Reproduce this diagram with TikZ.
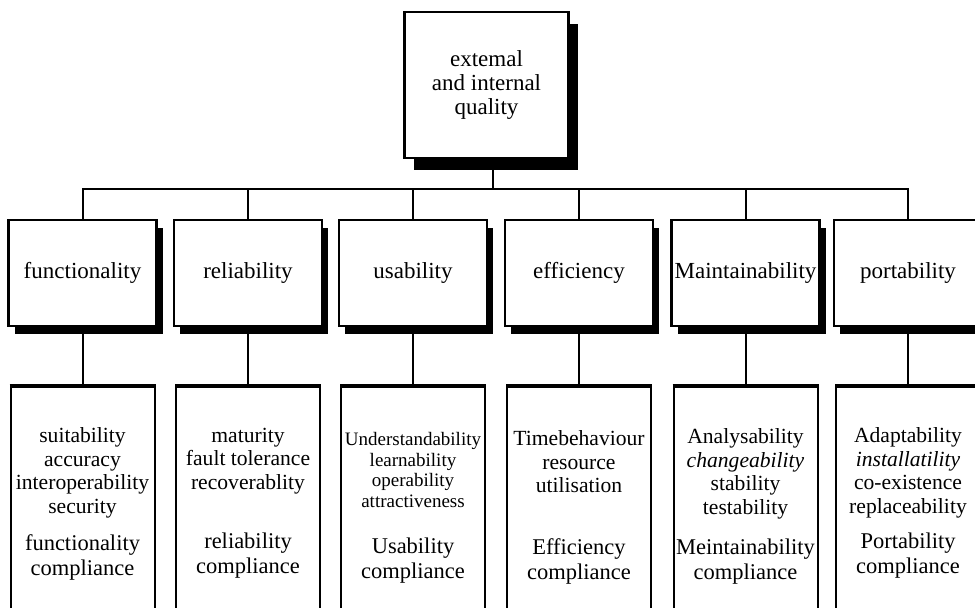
\documentclass[tikz,border=0pt]{standalone}
\usepackage{fontspec}
\setmainfont{Liberation Serif}
\usetikzlibrary{shadows}
\tikzstyle{rootbox}=[rectangle, draw, line width=1.2pt, fill=white, minimum width=82pt, minimum height=73pt, inner sep=0pt, align=center, font=\fontsize{11.5}{12}\selectfont, drop shadow={shadow xshift=4.5pt, shadow yshift=-6pt, fill=black, opacity=1}]
\tikzstyle{charbox}=[rectangle, draw, line width=1.2pt, fill=white, minimum width=74pt, minimum height=53pt, inner sep=0pt, font=\fontsize{11.5}{12}\selectfont, drop shadow={shadow xshift=3pt, shadow yshift=-4pt, fill=black, opacity=1}]
\tikzstyle{subbox}=[rectangle, draw, line width=1pt, minimum width=72pt, minimum height=130pt, anchor=north]
\tikzstyle{subattr}=[align=center, inner sep=0pt, font=\fontsize{10.8}{11.75}\selectfont]
\tikzstyle{subcomp}=[align=center, inner sep=0pt, font=\fontsize{11.25}{12.5}\selectfont]
\tikzstyle{link}=[line width=1pt]

\begin{document}
\begin{tikzpicture}[x=0.5pt,y=-0.5pt]
  \useasboundingbox (0,0) rectangle (975,607);
  \clip (0,0) rectangle (975,607);
  % root
  \node[rootbox] (quality) at (486.5,85) {extemal\\and internal\\quality};
  % characteristics
  \node[charbox] (func) at (82.5,273) {functionality};
  \node[charbox] (rel) at (248,273) {reliability};
  \node[charbox] (usab) at (413,273) {usability};
  \node[charbox] (eff) at (579,273) {efficiency};
  \node[charbox] (maint) at (745.5,273) {Maintainability};
  \node[charbox] (port) at (908,273) {portability};
  % sub-characteristics
  \node[subbox] (func-d) at (82.5,386) {};
  \node[subbox] (rel-d) at (248,386) {};
  \node[subbox] (usab-d) at (413,386) {};
  \node[subbox] (eff-d) at (579,386) {};
  \node[subbox] (maint-d) at (745.5,386) {};
  \node[subbox] (port-d) at (908,386) {};

  \node[subattr] (func-a) at (82.5,473) {suitability\\accuracy\\interoperability\\security};
  \node[subcomp] (func-c) at (82.5,557) {functionality\\compliance};
  \node[subattr] (rel-a) at (248,461) {maturity\\fault tolerance\\recoverablity};
  \node[subcomp] (rel-c) at (248,556) {reliability\\compliance};
  \node[subattr, font=\fontsize{9.5}{10.2}\selectfont] (usab-a) at (413,470) {Understandability\\learnability\\operability\\attractiveness};
  \node[subcomp] (usab-c) at (413,561) {Usability\\compliance};
  \node[subattr] (eff-a) at (579,462) {Timebehaviour\\resource\\utilisation};
  \node[subcomp] (eff-c) at (579,561) {Efficiency\\compliance};
  \node[subattr] (maint-a) at (745.5,474) {Analysability\\\textit{changeability}\\stability\\testability};
  \node[subcomp] (maint-c) at (745.5,562) {Meintainability\\compliance};
  \node[subattr] (port-a) at (908,473) {Adaptability\\\textit{installatility}\\co-existence\\replaceability};
  \node[subcomp] (port-c) at (908,556) {Portability\\compliance};

  \coordinate (bus) at (493,189);
  \draw[link] (quality.south -| bus) -- (bus);
  \foreach \c in {func,rel,usab,eff,maint,port}
  {
    \draw[link] (bus) -| (\c.north);
    \draw[link] (\c.south) -- (\c-d.north);
    \draw[line width=1.6pt] (\c-d.north west) -- (\c-d.north east);
  }
\end{tikzpicture}
\end{document}
